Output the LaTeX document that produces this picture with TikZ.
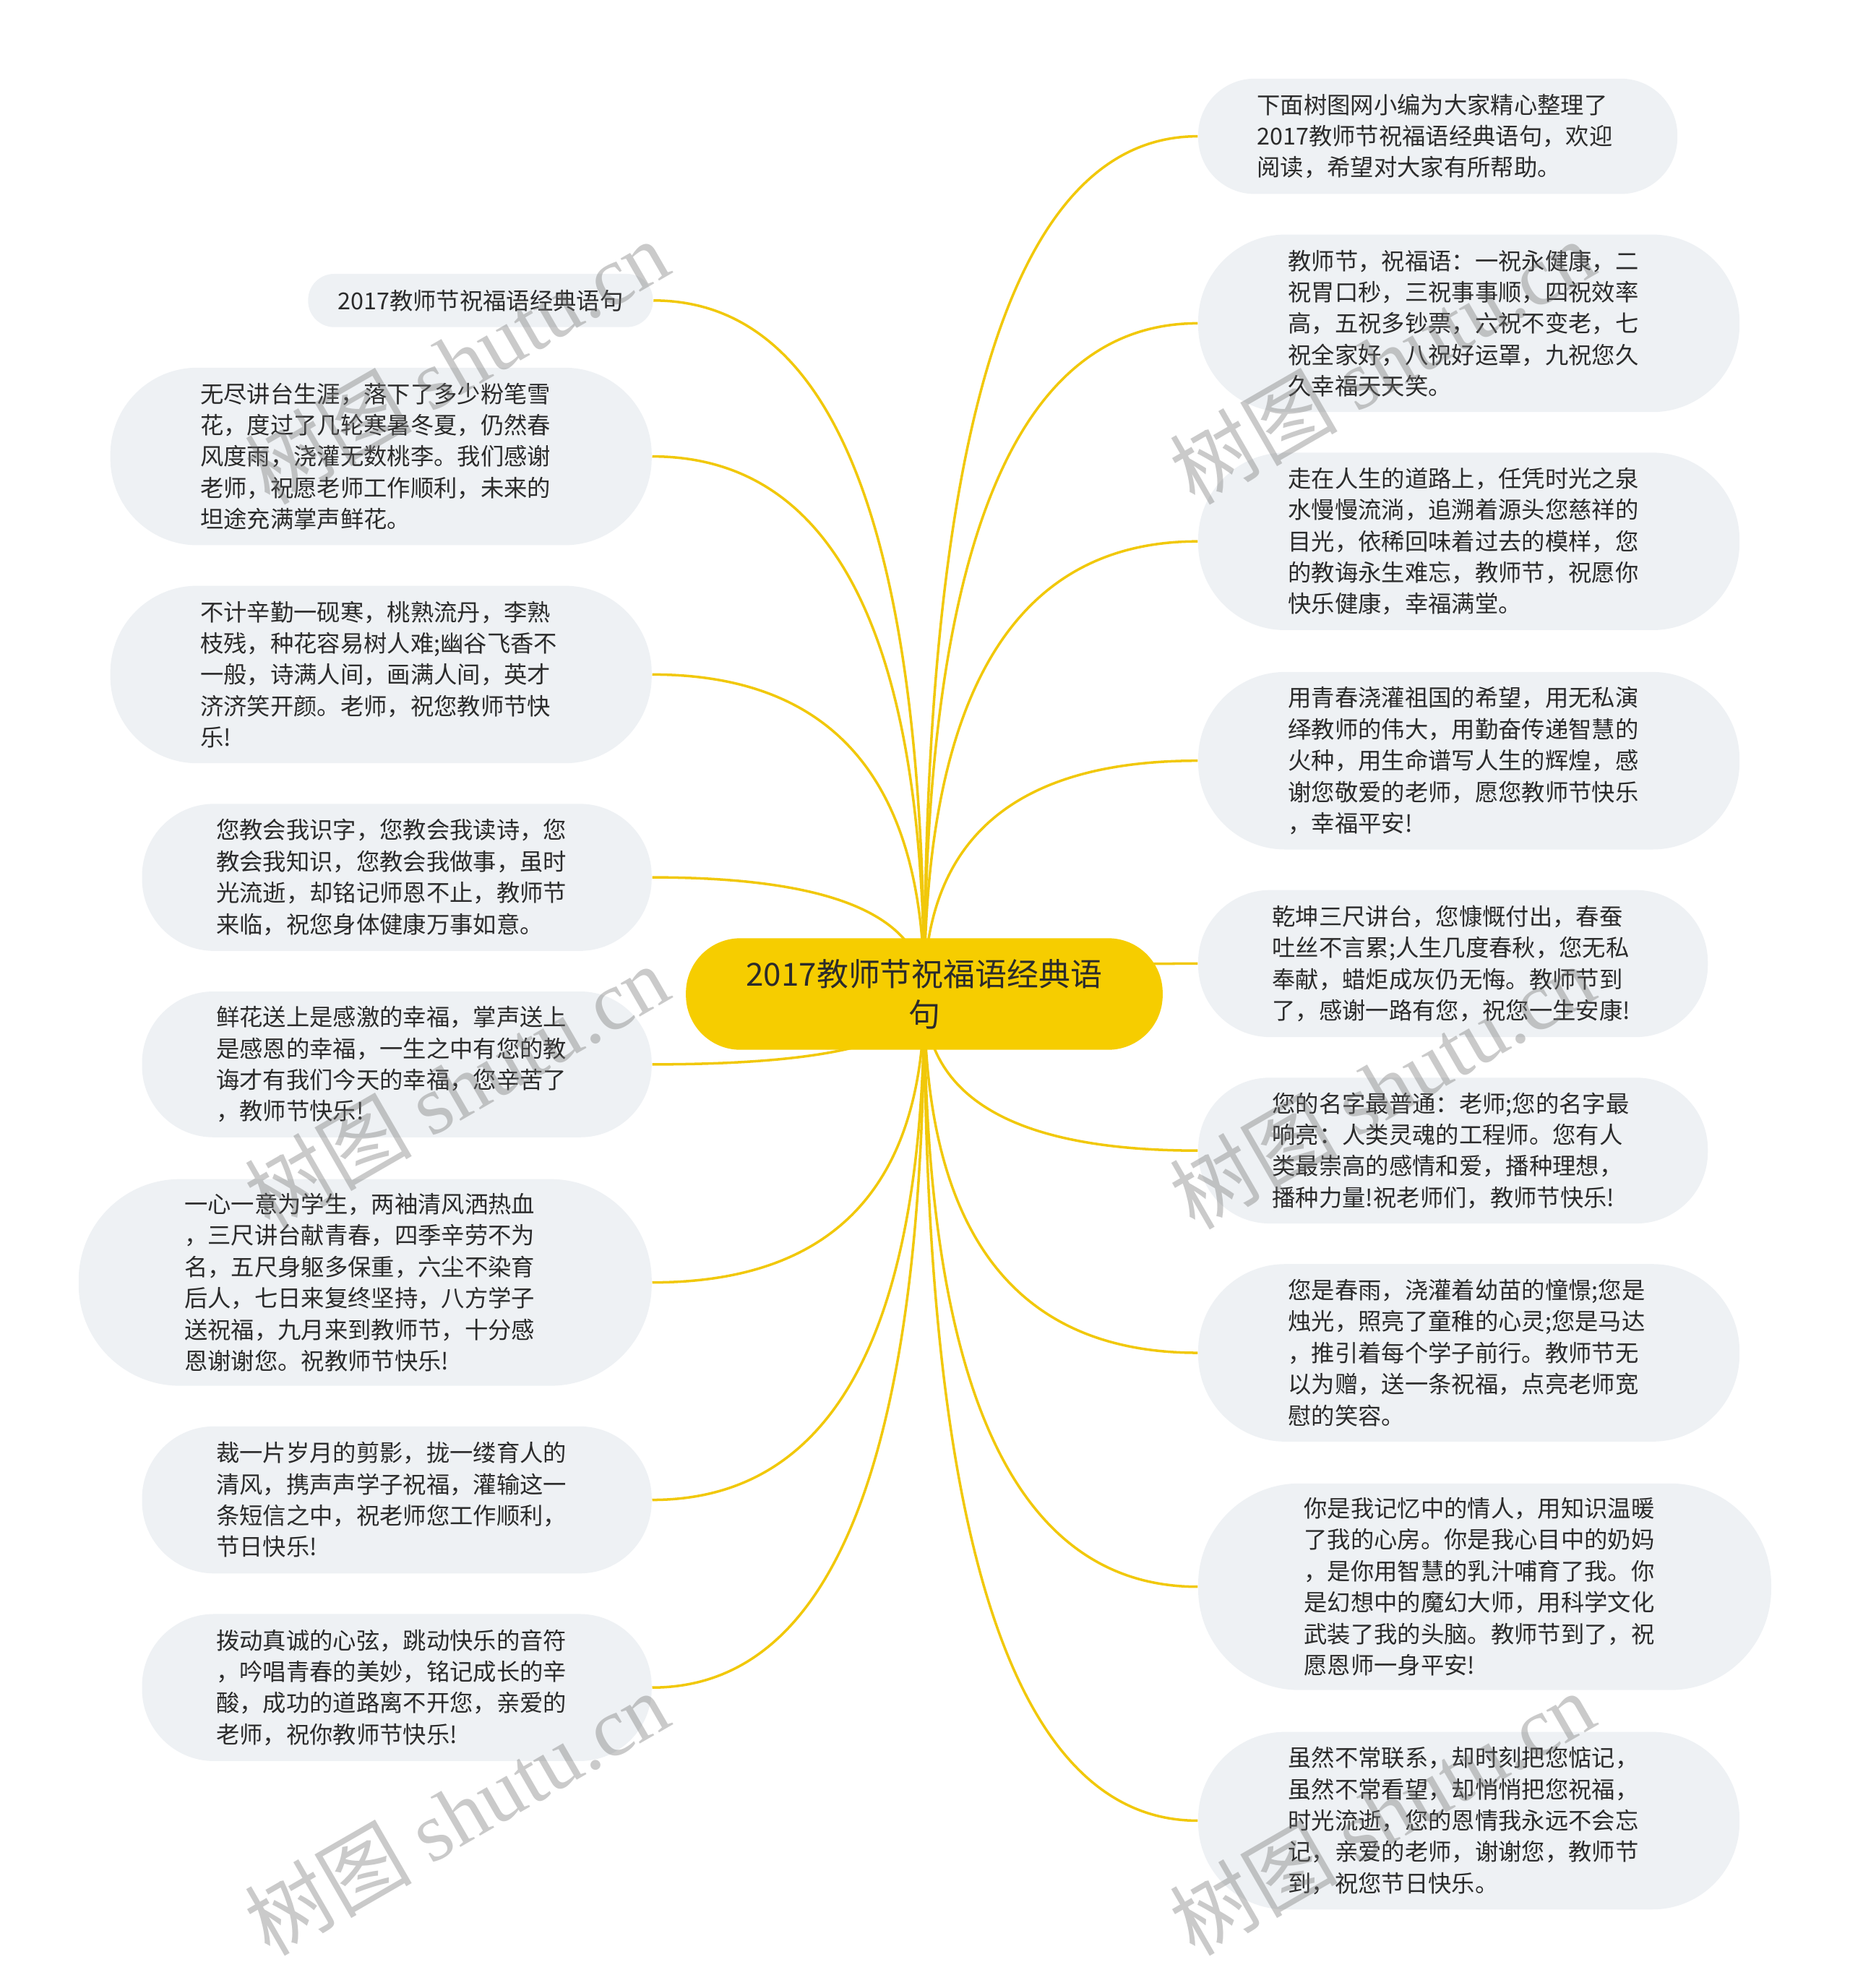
\documentclass[tikz,border=0pt]{standalone}
\usepackage{fontspec}
\setmainfont{Noto Sans CJK SC}
\newfontfamily\wmlatin{Liberation Serif}
\usetikzlibrary{calc}
\pgfdeclarelayer{bg}
\pgfsetlayers{bg,main}
\definecolor{branchc}{HTML}{F1C80A}
\definecolor{rootc}{HTML}{F6CD00}
\definecolor{leafc}{HTML}{EEF1F4}
\definecolor{textc}{HTML}{2B2B2B}
\newcommand{\pxu}{0.017546cm}
\tikzset{
  leaf/.style={fill=leafc, text=textc, align=left, inner sep=0pt,
    font=\fontsize{9.2}{12.35}\selectfont},
  multi/.style={text width=285*\pxu},
  pill/.style 2 args={minimum width=#1*\pxu, minimum height=#2*\pxu,
    rounded corners=#2*0.49*\pxu},
  root/.style={fill=rootc, text=textc, align=center, inner sep=0pt,
    font=\fontsize{12.5}{16}\selectfont,
    minimum width=376*\pxu, minimum height=88*\pxu, rounded corners=43*\pxu},
  conn/.style={draw=branchc, line width=1pt},
  branch/.style={to path={.. controls ($(\tikztostart)!0.667!(\tikztostart|-\tikztotarget)$)
      and ($(\tikztotarget)!0.667!(\tikztostart|-\tikztotarget)$) .. (\tikztotarget)}},
  wm/.style={text=black!55, opacity=0.38, inner sep=0pt, rotate=30,
    font=\fontsize{33}{33}\selectfont}
}
\begin{document}
\begin{tikzpicture}[x=\pxu, y=-\pxu]
\useasboundingbox (0,0) rectangle (1459,1568);

\node[root] (C) at (729,784) {2017教师节祝福语经典语\\句};

% right side
\node[leaf, multi, pill={378}{91}] (R1) at (1134,107.5) {下面树图网小编为大家精心整理了\\2017教师节祝福语经典语句，欢迎\\阅读，希望对大家有所帮助。};
\node[leaf, multi, pill={427}{140}] (R2) at (1158.5,255) {教师节，祝福语：一祝永健康，二\\祝胃口秒，三祝事事顺，四祝效率\\高，五祝多钞票，六祝不变老，七\\祝全家好，八祝好运罩，九祝您久\\久幸福天天笑。};
\node[leaf, multi, pill={427}{140}] (R3) at (1158.5,427) {走在人生的道路上，任凭时光之泉\\水慢慢流淌，追溯着源头您慈祥的\\目光，依稀回味着过去的模样，您\\的教诲永生难忘，教师节，祝愿你\\快乐健康，幸福满堂。};
\node[leaf, multi, pill={427}{140}] (R4) at (1158.5,600) {用青春浇灌祖国的希望，用无私演\\绎教师的伟大，用勤奋传递智慧的\\火种，用生命谱写人生的辉煌，感\\谢您敬爱的老师，愿您教师节快乐\\，幸福平安!};
\node[leaf, multi, pill={402}{116}] (R5) at (1146,760) {乾坤三尺讲台，您慷慨付出，春蚕\\吐丝不言累;人生几度春秋，您无私\\奉献，蜡炬成灰仍无悔。教师节到\\了，感谢一路有您，祝您一生安康!};
\node[leaf, multi, pill={402}{115}] (R6) at (1146,907.5) {您的名字最普通：老师;您的名字最\\响亮：人类灵魂的工程师。您有人\\类最崇高的感情和爱，播种理想，\\播种力量!祝老师们，教师节快乐!};
\node[leaf, multi, pill={427}{140}] (R7) at (1158.5,1067) {您是春雨，浇灌着幼苗的憧憬;您是\\烛光，照亮了童稚的心灵;您是马达\\，推引着每个学子前行。教师节无\\以为赠，送一条祝福，点亮老师宽\\慰的笑容。};
\node[leaf, multi, pill={452}{163}] (R8) at (1171,1251.5) {你是我记忆中的情人，用知识温暖\\了我的心房。你是我心目中的奶妈\\，是你用智慧的乳汁哺育了我。你\\是幻想中的魔幻大师，用科学文化\\武装了我的头脑。教师节到了，祝\\愿恩师一身平安!};
\node[leaf, multi, pill={427}{140}] (R9) at (1158.5,1436) {虽然不常联系，却时刻把您惦记，\\虽然不常看望，却悄悄把您祝福，\\时光流逝，您的恩情我永远不会忘\\记，亲爱的老师，谢谢您，教师节\\到，祝您节日快乐。};

% left side
\node[leaf, pill={272}{42}] (L1) at (379,237) {2017教师节祝福语经典语句};
\node[leaf, multi, pill={427}{140}] (L2) at (300.5,360) {无尽讲台生涯，落下了多少粉笔雪\\花，度过了几轮寒暑冬夏，仍然春\\风度雨，浇灌无数桃李。我们感谢\\老师，祝愿老师工作顺利，未来的\\坦途充满掌声鲜花。};
\node[leaf, multi, pill={427}{140}] (L3) at (300.5,532) {不计辛勤一砚寒，桃熟流丹，李熟\\枝残，种花容易树人难;幽谷飞香不\\一般，诗满人间，画满人间，英才\\济济笑开颜。老师，祝您教师节快\\乐!};
\node[leaf, multi, pill={402}{116}] (L4) at (313,692) {您教会我识字，您教会我读诗，您\\教会我知识，您教会我做事，虽时\\光流逝，却铭记师恩不止，教师节\\来临，祝您身体健康万事如意。};
\node[leaf, multi, pill={402}{115}] (L5) at (313,839.5) {鲜花送上是感激的幸福，掌声送上\\是感恩的幸福，一生之中有您的教\\诲才有我们今天的幸福，您辛苦了\\，教师节快乐!};
\node[leaf, multi, pill={452}{163}] (L6) at (288,1011.5) {一心一意为学生，两袖清风洒热血\\，三尺讲台献青春，四季辛劳不为\\名，五尺身躯多保重，六尘不染育\\后人，七日来复终坚持，八方学子\\送祝福，九月来到教师节，十分感\\恩谢谢您。祝教师节快乐!};
\node[leaf, multi, pill={402}{116}] (L7) at (313,1183) {裁一片岁月的剪影，拢一缕育人的\\清风，携声声学子祝福，灌输这一\\条短信之中，祝老师您工作顺利，\\节日快乐!};
\node[leaf, multi, pill={402}{116}] (L8) at (313,1331) {拨动真诚的心弦，跳动快乐的音符\\，吟唱青春的美妙，铭记成长的辛\\酸，成功的道路离不开您，亲爱的\\老师，祝你教师节快乐!};

\begin{pgfonlayer}{bg}
\foreach \n in {R1,R2,R3,R4,R5,R6,R7,R8,R9}
  \draw[conn] (C.center) to[branch] (\n.west);
\foreach \n in {L1,L2,L3,L4,L5,L6,L7,L8}
  \draw[conn] (C.center) to[branch] (\n.east);
\end{pgfonlayer}

% watermarks
\node[wm] (W1) at (360,285) {树图 {\wmlatin shutu.cn}};
\node[wm] (W2) at (360,857) {树图 {\wmlatin shutu.cn}};
\node[wm] (W3) at (360,1430) {树图 {\wmlatin shutu.cn}};
\node[wm] (W4) at (1090,285) {树图 {\wmlatin shutu.cn}};
\node[wm] (W5) at (1090,857) {树图 {\wmlatin shutu.cn}};
\node[wm] (W6) at (1090,1430) {树图 {\wmlatin shutu.cn}};
\end{tikzpicture}
\end{document}
